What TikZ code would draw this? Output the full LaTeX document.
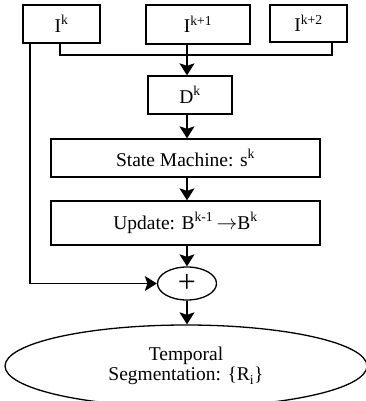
\documentclass[tikz,border=0pt]{standalone}
\usepackage{fontspec}
\setmainfont{Liberation Serif}
\usetikzlibrary{arrows.meta,shapes.geometric}
\begin{document}
\begin{tikzpicture}[x=1pt,y=-1pt, line width=1.3pt,
  lbl/.style={font=\fontsize{19.5}{20.5}\selectfont},
  box/.style={draw, rectangle, inner sep=0pt, lbl},
  arr/.style={-{Stealth[length=12pt,width=15pt,inset=2.5pt]}}]
\useasboundingbox (0,0) rectangle (366,401);
\clip (0,0) rectangle (366,401);
% input frames
\node[box, minimum width=77pt, minimum height=38pt] (ik) at (61.5,24) {I\textsuperscript{k}};
\node[box, minimum width=104pt, minimum height=39pt] (ik1) at (198,24.5) {I\textsuperscript{k+1}};
\node[box, minimum width=77pt, minimum height=37pt] (ik2) at (308.5,23.5) {I\textsuperscript{k+2}};
% processing
\node[box, minimum width=84pt, minimum height=38pt] (dk) at (190,95) {D\textsuperscript{k}};
\node[box, minimum width=269pt, minimum height=38pt] (sm) at (185.5,158) {State Machine: s\textsuperscript{k}};
\node[box, minimum width=269pt, minimum height=44pt] (up) at (185.5,223) {Update: B\textsuperscript{k-1}\,$\rightarrow$B\textsuperscript{k}};
\node[draw, ellipse, inner sep=0pt, minimum width=59pt, minimum height=33pt, font=\fontsize{32}{32}\selectfont] (plus) at (187,283.5) {\raisebox{-0.12em}{+}};
\node[draw, ellipse, inner sep=0pt, minimum width=362pt, minimum height=82pt, lbl, align=center] (seg) at (186,366) {Temporal\\Segmentation: \{R\textsubscript{i}\}};
% bus
\coordinate (bl) at (60,55);
\coordinate (br) at (332,55);
\coordinate (bm) at (187,55);
\coordinate (lc) at (30,283.5);
\draw (ik.south -| bl) -- (bl) -- (br) -- (ik2.south -| br);
\draw[arr] (ik1.south -| bm) -- (dk.north -| bm);
\draw[arr] (dk.south -| bm) -- (sm.north -| bm);
\draw[arr] (sm.south -| bm) -- (up.north -| bm);
\draw[arr] (up.south -| bm) -- (plus.north);
\draw[arr] (plus.south) -- (seg.north -| plus.south);
\draw[arr] (ik.south -| lc) -- (lc) -- (plus.west);
\end{tikzpicture}
\end{document}
